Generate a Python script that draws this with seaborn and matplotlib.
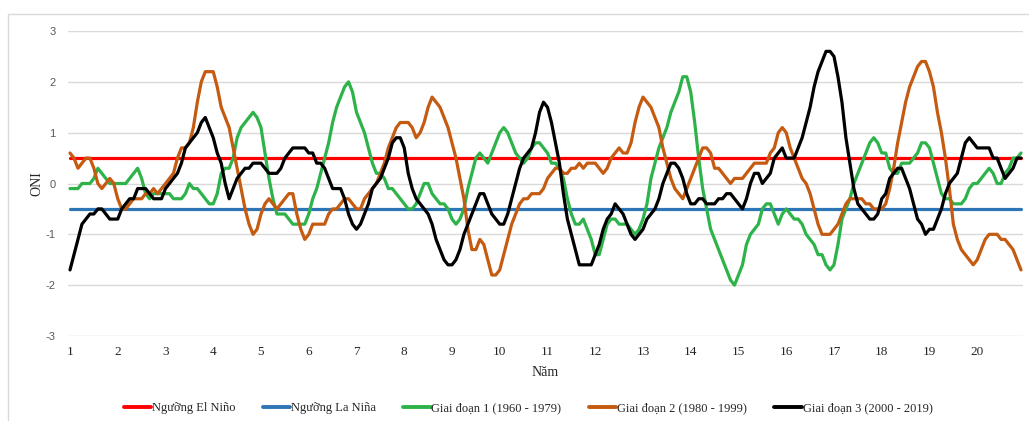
import numpy as np
import pandas as pd
import seaborn as sns
import matplotlib.pyplot as plt
from matplotlib.lines import Line2D

# ONI monthly values, 20 years per period
gd1 = [-0.1, -0.1, -0.1, 0.0, 0.0, 0.0, 0.1, 0.3, 0.2, 0.1, 0.0, 0.0,
       0.0, 0.0, 0.0, 0.1, 0.2, 0.3, 0.1, -0.2, -0.3, -0.2, -0.2, -0.2,
       -0.2, -0.2, -0.3, -0.3, -0.3, -0.2, 0.0, -0.1, -0.1, -0.2, -0.3, -0.4,
       -0.4, -0.2, 0.2, 0.3, 0.3, 0.5, 0.9, 1.1, 1.2, 1.3, 1.4, 1.3,
       1.1, 0.6, 0.1, -0.3, -0.6, -0.6, -0.6, -0.7, -0.8, -0.8, -0.8, -0.8,
       -0.6, -0.3, -0.1, 0.2, 0.5, 0.8, 1.2, 1.5, 1.7, 1.9, 2.0, 1.8,
       1.4, 1.2, 1.0, 0.7, 0.4, 0.2, 0.2, 0.1, -0.1, -0.1, -0.2, -0.3,
       -0.4, -0.5, -0.5, -0.4, -0.2, 0.0, 0.0, -0.2, -0.3, -0.4, -0.4, -0.5,
       -0.7, -0.8, -0.7, -0.5, -0.1, 0.2, 0.5, 0.6, 0.5, 0.4, 0.6, 0.8,
       1.0, 1.1, 1.0, 0.8, 0.6, 0.5, 0.4, 0.5, 0.7, 0.8, 0.8, 0.7,
       0.6, 0.4, 0.4, 0.3, 0.1, -0.3, -0.6, -0.8, -0.8, -0.7, -0.9, -1.1,
       -1.4, -1.4, -1.1, -0.8, -0.7, -0.7, -0.8, -0.8, -0.8, -0.9, -1.0, -0.9,
       -0.7, -0.4, 0.1, 0.4, 0.7, 0.9, 1.1, 1.4, 1.6, 1.8, 2.1, 2.1,
       1.8, 1.2, 0.5, -0.1, -0.5, -0.9, -1.1, -1.3, -1.5, -1.7, -1.9, -2.0,
       -1.8, -1.6, -1.2, -1.0, -0.9, -0.8, -0.5, -0.4, -0.4, -0.6, -0.8, -0.6,
       -0.5, -0.6, -0.7, -0.7, -0.8, -1.0, -1.1, -1.2, -1.4, -1.4, -1.6, -1.7,
       -1.6, -1.2, -0.7, -0.5, -0.3, 0.0, 0.2, 0.4, 0.6, 0.8, 0.9, 0.8,
       0.6, 0.6, 0.3, 0.2, 0.2, 0.4, 0.4, 0.4, 0.5, 0.6, 0.8, 0.8,
       0.7, 0.4, 0.1, -0.2, -0.3, -0.3, -0.4, -0.4, -0.4, -0.3, -0.1, 0.0,
       0.0, 0.1, 0.2, 0.3, 0.2, 0.0, 0.0, 0.2, 0.3, 0.5, 0.5, 0.6]

gd2 = [0.6, 0.5, 0.3, 0.4, 0.5, 0.5, 0.3, 0.0, -0.1, 0.0, 0.1, 0.0,
       -0.3, -0.5, -0.5, -0.4, -0.3, -0.3, -0.3, -0.2, -0.2, -0.1, -0.2, -0.1,
       0.0, 0.1, 0.2, 0.5, 0.7, 0.7, 0.8, 1.1, 1.6, 2.0, 2.2, 2.2,
       2.2, 1.9, 1.5, 1.3, 1.1, 0.7, 0.3, -0.1, -0.5, -0.8, -1.0, -0.9,
       -0.6, -0.4, -0.3, -0.4, -0.5, -0.4, -0.3, -0.2, -0.2, -0.6, -0.9, -1.1,
       -1.0, -0.8, -0.8, -0.8, -0.8, -0.6, -0.5, -0.5, -0.4, -0.3, -0.3, -0.4,
       -0.5, -0.5, -0.3, -0.2, -0.1, 0.0, 0.2, 0.4, 0.7, 0.9, 1.1, 1.2,
       1.2, 1.2, 1.1, 0.9, 1.0, 1.2, 1.5, 1.7, 1.6, 1.5, 1.3, 1.1,
       0.8, 0.5, 0.1, -0.3, -0.9, -1.3, -1.3, -1.1, -1.2, -1.5, -1.8, -1.8,
       -1.7, -1.4, -1.1, -0.8, -0.6, -0.4, -0.3, -0.3, -0.2, -0.2, -0.2, -0.1,
       0.1, 0.2, 0.3, 0.3, 0.2, 0.2, 0.3, 0.3, 0.4, 0.3, 0.4, 0.4,
       0.4, 0.3, 0.2, 0.3, 0.5, 0.6, 0.7, 0.6, 0.6, 0.8, 1.2, 1.5,
       1.7, 1.6, 1.5, 1.3, 1.1, 0.7, 0.4, 0.1, -0.1, -0.2, -0.3, -0.1,
       0.1, 0.3, 0.5, 0.7, 0.7, 0.6, 0.3, 0.3, 0.2, 0.1, 0.0, 0.1,
       0.1, 0.1, 0.2, 0.3, 0.4, 0.4, 0.4, 0.4, 0.6, 0.7, 1.0, 1.1,
       1.0, 0.7, 0.5, 0.3, 0.1, 0.0, -0.2, -0.5, -0.8, -1.0, -1.0, -1.0,
       -0.9, -0.8, -0.6, -0.4, -0.3, -0.3, -0.3, -0.3, -0.4, -0.4, -0.5, -0.5,
       -0.5, -0.4, -0.1, 0.3, 0.8, 1.2, 1.6, 1.9, 2.1, 2.3, 2.4, 2.4,
       2.2, 1.9, 1.4, 1.0, 0.5, -0.1, -0.8, -1.1, -1.3, -1.4, -1.5, -1.6,
       -1.5, -1.3, -1.1, -1.0, -1.0, -1.0, -1.1, -1.1, -1.2, -1.3, -1.5, -1.7]

gd3 = [-1.7, -1.4, -1.1, -0.8, -0.7, -0.6, -0.6, -0.5, -0.5, -0.6, -0.7, -0.7,
       -0.7, -0.5, -0.4, -0.3, -0.3, -0.1, -0.1, -0.1, -0.2, -0.3, -0.3, -0.3,
       -0.1, 0.0, 0.1, 0.2, 0.4, 0.7, 0.8, 0.9, 1.0, 1.2, 1.3, 1.1,
       0.9, 0.6, 0.4, 0.0, -0.3, -0.1, 0.1, 0.2, 0.3, 0.3, 0.4, 0.4,
       0.4, 0.3, 0.2, 0.2, 0.2, 0.3, 0.5, 0.6, 0.7, 0.7, 0.7, 0.7,
       0.6, 0.6, 0.4, 0.4, 0.3, 0.1, -0.1, -0.1, -0.1, -0.3, -0.6, -0.8,
       -0.9, -0.8, -0.6, -0.4, -0.1, 0.0, 0.1, 0.3, 0.5, 0.8, 0.9, 0.9,
       0.7, 0.2, -0.1, -0.3, -0.4, -0.5, -0.6, -0.8, -1.1, -1.3, -1.5, -1.6,
       -1.6, -1.5, -1.3, -1.0, -0.8, -0.6, -0.4, -0.2, -0.2, -0.4, -0.6, -0.7,
       -0.8, -0.8, -0.6, -0.3, 0.0, 0.3, 0.5, 0.6, 0.7, 1.0, 1.4, 1.6,
       1.5, 1.2, 0.8, 0.4, -0.2, -0.7, -1.0, -1.3, -1.6, -1.6, -1.6, -1.6,
       -1.4, -1.2, -0.9, -0.7, -0.6, -0.4, -0.5, -0.6, -0.8, -1.0, -1.1, -1.0,
       -0.9, -0.7, -0.6, -0.5, -0.3, 0.0, 0.2, 0.4, 0.4, 0.3, 0.1, -0.2,
       -0.4, -0.4, -0.3, -0.3, -0.4, -0.4, -0.4, -0.3, -0.3, -0.2, -0.2, -0.3,
       -0.4, -0.5, -0.3, 0.0, 0.2, 0.2, 0.0, 0.1, 0.2, 0.5, 0.6, 0.7,
       0.5, 0.5, 0.5, 0.7, 0.9, 1.2, 1.5, 1.9, 2.2, 2.4, 2.6, 2.6,
       2.5, 2.1, 1.6, 0.9, 0.4, -0.1, -0.4, -0.5, -0.6, -0.7, -0.7, -0.6,
       -0.3, -0.2, 0.1, 0.2, 0.3, 0.3, 0.1, -0.1, -0.4, -0.7, -0.8, -1.0,
       -0.9, -0.9, -0.7, -0.5, -0.2, 0.0, 0.1, 0.2, 0.5, 0.8, 0.9, 0.8,
       0.7, 0.7, 0.7, 0.7, 0.5, 0.5, 0.3, 0.1, 0.2, 0.3, 0.5, 0.5]

el_nino = [0.5] * 240
la_nina = [-0.5] * 240

years = list(range(1, 21))
series_names = ["Ngưỡng El Niño", "Ngưỡng La Niña", "Giai đoạn 1 (1960 - 1979)",
                "Giai đoạn 2 (1980 - 1999)", "Giai đoạn 3 (2000 - 2019)"]
colors = ["#FF0000", "#2E75B6", "#2DB34A", "#C55A11", "#000000"]

x = 1 + np.arange(240) / 12
df = pd.concat([pd.DataFrame({"x": x, "oni": v, "series": n})
                for n, v in zip(series_names, [el_nino, la_nina, gd1, gd2, gd3])],
               ignore_index=True)

sns.set_style("white")
W, H = 1029, 421
fig = plt.figure(figsize=(W / 100, H / 100), dpi=100)
ax = fig.add_axes([68 / W, 1 - 336 / H, 955 / W, 305 / H])

sns.lineplot(data=df, x="x", y="oni", hue="series", hue_order=series_names,
             palette=colors, estimator=None, linewidth=2.3, ax=ax, legend=False)

# first month at px 70, last month at px ~1021
px_per_year = 951 / (239 / 12)
ax.set_xlim(1 - 2 / px_per_year, 1 + 953 / px_per_year)
ax.set_ylim(-3, 3)
ax.set_yticks(range(-3, 4))
ax.set_xticks(years)
ax.set_xticklabels([str(y) for y in years], family="Liberation Serif", fontsize=9.5)
ax.set_yticklabels([str(v) for v in range(-3, 4)], family="Liberation Sans",
                   fontsize=8, color="#595959")
ax.grid(axis="y", color="#D9D9D9", lw=1)
ax.grid(axis="x", visible=False)
for s in ax.spines.values():
    s.set_visible(False)
ax.tick_params(length=0)
ax.tick_params(axis="y", pad=9)
ax.tick_params(axis="x", pad=7)
ax.set_xlabel("")
ax.set_ylabel("")

fig.text(37 / W, 1 - 184 / H, "ONI", rotation=90, ha="center", va="center",
         family="Liberation Serif", fontsize=10)
fig.text(545 / W, 1 - 372 / H, "Năm", ha="center", va="center",
         family="Liberation Serif", fontsize=10)

handles = [Line2D([], [], color=c, lw=2.8) for c in colors]
fig.legend(handles, series_names, loc="center", bbox_to_anchor=(528 / W, 1 - 408 / H),
           ncol=5, frameon=False, handlelength=2.2, handletextpad=0.05,
           columnspacing=2.2, prop={"family": "Liberation Serif", "size": 9})

# chart area border (top and left visible)
fig.add_artist(Line2D([8 / W, 1], [1 - 14 / H, 1 - 14 / H], color="#D9D9D9", lw=1))
fig.add_artist(Line2D([8 / W, 8 / W], [0, 1 - 14 / H], color="#D9D9D9", lw=1))

fig.savefig("out.png", dpi=100)
